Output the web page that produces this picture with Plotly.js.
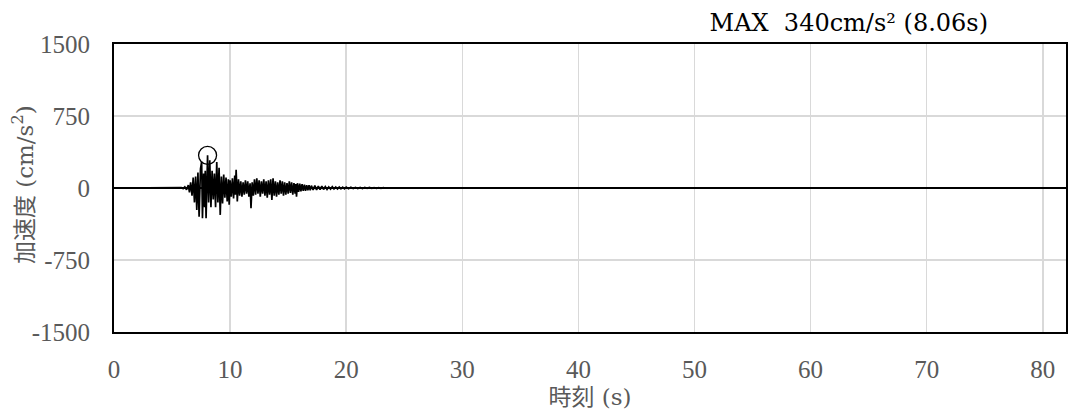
<!DOCTYPE html>
<html>
<head>
<meta charset="utf-8">
<script src="https://cdn.plot.ly/plotly-3.0.1.min.js"></script>
<style>html,body{margin:0;padding:0;background:#fff;}#chart{width:1071px;height:419px;}</style>
</head>
<body>
<div id="chart"></div>
<script>
// Time (s) of each read point on the trace
const timeS = [0, 5.6, 5.8, 5.95, 6.1, 6.25, 6.4, 6.5, 6.6, 6.72, 6.82, 6.93, 7.03, 7.13, 7.23, 7.33, 7.45,
  7.55, 7.62, 7.72, 7.8, 7.86, 7.93, 8.06, 8.15, 8.25, 8.35, 8.45, 8.55, 8.65, 8.75, 8.85, 8.95, 9.05, 9.15,
  9.25, 9.35, 9.45, 9.55, 9.65, 9.75, 9.85, 9.92, 10.0, 10.1, 10.2, 10.3, 10.4, 10.45, 10.52, 10.62, 10.72,
  10.82, 10.92, 11.02, 11.12, 11.22, 11.32, 11.42, 11.52, 11.62, 11.72, 11.8, 11.9, 12.0, 12.1, 12.2, 12.3,
  12.4, 12.5, 12.6, 12.7, 12.8, 12.9, 13.0, 13.1, 13.2, 13.3, 13.4, 13.5, 13.6, 13.7, 13.8, 13.9, 14.0, 14.1,
  14.2, 14.3, 14.4, 14.5, 14.6, 14.7, 14.8, 14.9, 15.0, 15.1, 15.2, 15.3, 15.4, 15.5, 15.6, 15.65, 15.72,
  15.8, 15.9, 16.0, 16.1, 16.2, 16.3, 16.4, 16.5, 16.6, 16.7, 16.8, 16.9, 17.0, 17.15, 17.3, 17.45, 17.6,
  17.75, 17.9, 18.05, 18.2, 18.35, 18.5, 18.65, 18.8, 18.95, 19.1, 19.25, 19.4, 19.55, 19.7, 19.85, 20.0,
  20.2, 20.4, 20.6, 20.8, 21.0, 21.2, 21.4, 21.6, 21.8, 22.0, 22.2, 22.4, 22.6, 22.8, 23.0, 23.2, 23.4,
  23.6, 23.8, 82];
// Acceleration (cm/s²) at each read point
const accel = [0, 0, 4, -6, 12, -18, 30, -45, 60, -80, 110, -150, 120, -230, 160, -300, 200,
  275, -315, 150, -200, 180, -315, 340, -150, 290, -200, 180, -120, 150, -200, 270, -150, 210, -280,
  120, -160, 140, -100, 110, -140, 90, -175, 80, -90, 100, -110, 130, -70, 190, -140, 90,
  -80, 70, -90, 60, -70, 80, -60, 70, -90, 50, -210, 60, -80, 90, -70, 100,
  -60, 80, -90, 70, -60, 90, -80, 70, -100, 80, -70, 90, -125, 100, -80, 70, -90, 60,
  -70, 80, -60, 70, -80, 60, -70, 50, -60, 70, -50, 60, -70, 50, -60, 40, -90,
  50, -40, 45, -35, 40, -30, 35, -30, 30, -25, 30, -25, 25, -20, 25, -20, 20,
  -18, 20, -15, 15, -15, 12, -12, 14, -10, 10, -10, 10, -8, 8, -8, 9,
  -7, 7, -6, 6, -5, 6, -5, 5, -4, 5, -4, 4, -3, 4, -3, 3, -2,
  2, 0, 0];
// Maximum point
const maxTime = [8.06];
const maxAccel = [340];
const titleText = 'MAX\u00a0\u00a0340cm/s² (8.06s)';
const xTitle = '時刻 (s)';
const yTitle = '加速度 (cm/s<sup>2</sup>)';
// Axis ticks
const xTickVals = [0, 10, 20, 30, 40, 50, 60, 70, 80];
const xTickText = ['0', '10', '20', '30', '40', '50', '60', '70', '80'];
const yTickVals = [1500, 750, 0, -750, -1500];
const yTickText = ['1500', '750', '0', '-750', '-1500'];

const serif = '"Liberation Serif", "DejaVu Serif", serif';
const wideSerif = '"DejaVu Serif", "Liberation Serif", serif';
const cjk = '"DejaVu Serif", "Noto Sans CJK JP", serif';
const tickFont = {family: serif, size: 25, color: '#595959'};
const axisTitleFont = {family: cjk, size: 23, color: '#595959'};

const traces = [
  {x: timeS, y: accel, type: 'scatter', mode: 'lines', line: {color: '#000', width: 1.7}, hoverinfo: 'skip'},
  {x: maxTime, y: maxAccel, type: 'scatter', mode: 'markers',
   marker: {symbol: 'circle-open', size: 18, color: '#000', line: {width: 1.3, color: '#000'}}}
];

const plotLeft = 114, plotWidth = 1071 - 114 - 5;

const layout = {
  width: 1071, height: 419,
  margin: {l: plotLeft, r: 5, t: 44, b: 87},
  paper_bgcolor: '#fff', plot_bgcolor: '#fff',
  showlegend: false,
  title: {text: titleText, font: {family: wideSerif, size: 24, color: '#000'},
          x: 988 / 1071, xanchor: 'right', xref: 'container', y: 1 - 23 / 419, yanchor: 'middle', yref: 'container'},
  xaxis: {range: [0, 82], tickvals: xTickVals, ticktext: xTickText, tickfont: tickFont,
          showgrid: true, gridcolor: '#d9d9d9', gridwidth: 1.5,
          showline: true, mirror: true, linecolor: '#000', linewidth: 2,
          ticks: 'outside', ticklen: 14, tickcolor: 'rgba(0,0,0,0)', zeroline: false,
          title: {text: xTitle, font: axisTitleFont, standoff: 7}},
  yaxis: {range: [-1500, 1500], tickvals: yTickVals, ticktext: yTickText, tickfont: tickFont,
          showgrid: true, gridcolor: '#d9d9d9', gridwidth: 1.5,
          showline: true, mirror: true, linecolor: '#000', linewidth: 2,
          ticks: 'outside', ticklen: 17, tickcolor: 'rgba(0,0,0,0)',
          zeroline: true, zerolinecolor: '#000', zerolinewidth: 2.2},
  annotations: [
    {text: yTitle, font: axisTitleFont, textangle: -90, showarrow: false,
     xref: 'paper', yref: 'paper', x: (23 - plotLeft) / plotWidth, y: 0.51, xanchor: 'center', yanchor: 'middle'}
  ]
};

Plotly.newPlot('chart', traces, layout, {displayModeBar: false, staticPlot: true});
</script>
</body>
</html>
